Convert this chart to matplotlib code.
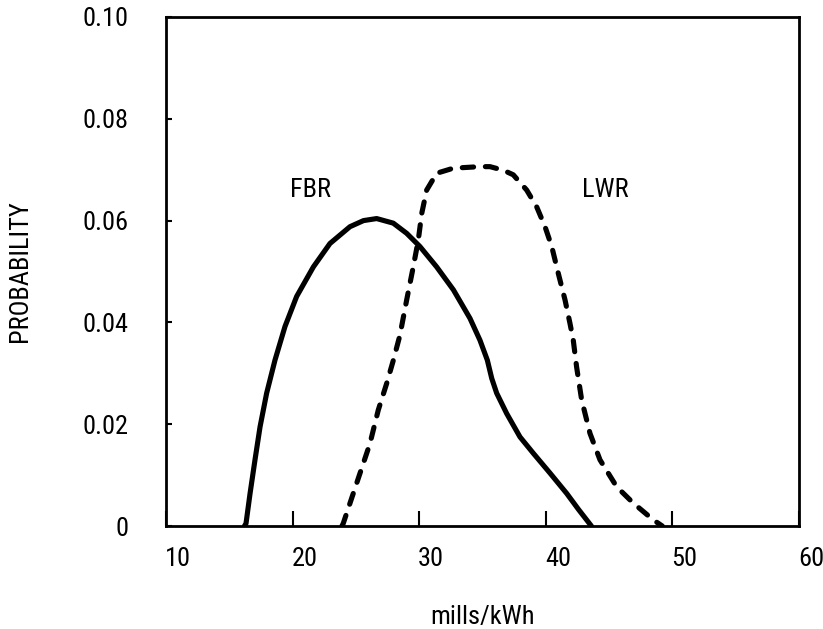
import matplotlib
matplotlib.use("Agg")
import matplotlib.pyplot as plt
import matplotlib.transforms as mtransforms
from matplotlib import font_manager

# ---- data ----
fbr_x = [16.2, 16.32, 16.64, 17.03, 17.43, 17.95, 18.61, 19.40, 20.32, 21.64, 22.95, 24.53, 25.60,
         26.64, 27.95, 29.01, 30.06, 31.38, 32.70, 34.01, 34.80, 35.38, 35.73, 36.12, 36.91, 37.96,
         39.01, 40.33, 41.65, 42.6, 43.6]
fbr_y = [0.0, 0.0005, 0.0064, 0.0130, 0.0195, 0.0261, 0.0326, 0.0392, 0.0451, 0.0509, 0.0555, 0.0588, 0.0600,
         0.0604, 0.0595, 0.0575, 0.0549, 0.0509, 0.0464, 0.0408, 0.0365, 0.0326, 0.0290, 0.0261, 0.0221, 0.0175,
         0.0143, 0.0104, 0.0064, 0.0032, 0.0]

lwr_x = [23.9, 24.0, 25.06, 26.11, 26.77, 27.43, 27.95, 28.48, 29.01, 29.53, 29.93, 30.20, 30.59,
         31.38, 32.70, 34.80, 35.59, 36.64, 37.43, 38.49, 39.28, 39.94, 40.47, 40.99, 41.52, 41.91,
         42.17, 42.43, 42.83, 43.49, 44.28, 45.60, 46.91, 48.49, 49.2]
lwr_y = [0.0, 0.0005, 0.0084, 0.0162, 0.0228, 0.0280, 0.0325, 0.0375, 0.0444, 0.0509, 0.0562, 0.0614, 0.0660,
         0.0693, 0.0703, 0.0706, 0.0706, 0.0699, 0.0690, 0.0660, 0.0627, 0.0588, 0.0549, 0.0496, 0.0444, 0.0398,
         0.0365, 0.0313, 0.0248, 0.0182, 0.0130, 0.0077, 0.0045, 0.0012, 0.0]

x_ticks = [10, 20, 30, 40, 50, 60]
x_ticklabels = ["10", "20", "30", "40", "50", "60"]
y_ticks = [0, 0.02, 0.04, 0.06, 0.08, 0.10]
y_ticklabels = ["0", "0.02", "0.04", "0.06", "0.08", "0.10"]

names = {f.name for f in font_manager.fontManager.ttflist}
fam = "DejaVu Sans"
for cand in ["Roboto Condensed", "Sofia Sans Condensed", "Saira SemiCondensed"]:
    if cand in names:
        fam = cand
        break
plt.rcParams["font.family"] = [fam, "DejaVu Sans"]
FS = 19
FW = "normal"

fig = plt.figure(figsize=(8.23, 6.29), dpi=100)
ax = fig.add_axes([166 / 823, 1 - 526 / 629, (799 - 166) / 823, (526 - 17) / 629])

ax.plot(fbr_x, fbr_y, color="black", lw=3.7, solid_capstyle="round", solid_joinstyle="round")
ax.plot(lwr_x, lwr_y, color="black", lw=3.7, linestyle=(0, (2.2, 2.3)),
        dash_capstyle="round", dash_joinstyle="round")

ax.set_xlim(10, 60)
ax.set_ylim(0, 0.10)
for s in ax.spines.values():
    s.set_linewidth(2.0)

ax.set_xticks(x_ticks)
ax.set_xticklabels(x_ticklabels, fontsize=FS, fontweight=FW)
ax.set_yticks(y_ticks)
ax.set_yticklabels(y_ticklabels, fontsize=FS, fontweight=FW)
ax.tick_params(axis="x", direction="in", length=11, width=1.5, pad=15)
ax.tick_params(axis="y", direction="in", length=4, width=1.5, pad=27)

offset = mtransforms.ScaledTranslation(12 / 100, 0, fig.dpi_scale_trans)
for lbl in ax.get_xticklabels():
    lbl.set_transform(lbl.get_transform() + offset)

ax.set_xlabel("mills/kWh", fontsize=FS, fontweight=FW)
ax.xaxis.set_label_coords(0.5, -0.155)
ax.set_ylabel("PROBABILITY", fontsize=FS, fontweight=FW)
ax.yaxis.set_label_coords(-0.212, 0.5)

ax.text(21.45, 0.066, "FBR", fontsize=FS, fontweight=FW, ha="center", va="center")
ax.text(44.68, 0.066, "LWR", fontsize=FS, fontweight=FW, ha="center", va="center")

fig.savefig("out.png", dpi=100)
